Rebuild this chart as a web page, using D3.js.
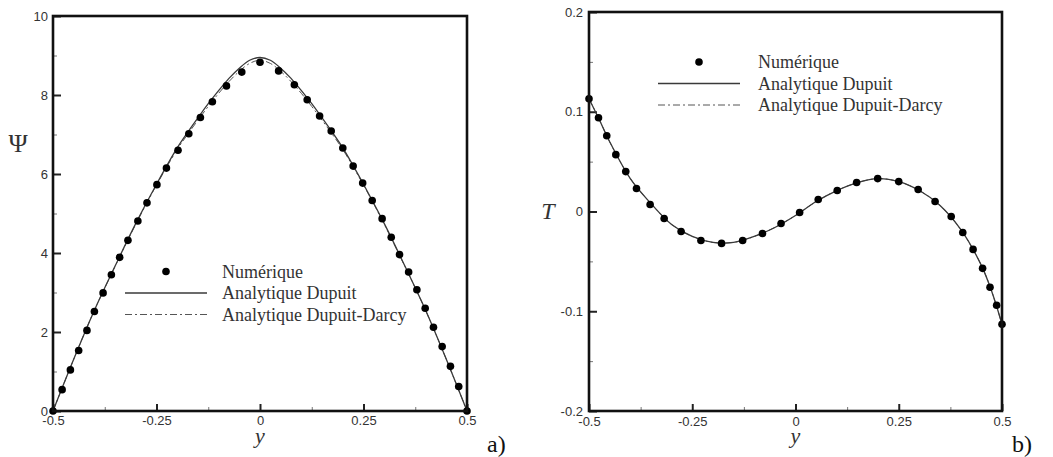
<!DOCTYPE html>
<html>
<head>
<meta charset="utf-8">
<script src="https://cdn.jsdelivr.net/npm/d3@7"></script>
<style>
  body { margin: 0; background: #fff; }
  svg { display: block; }
  .tick text { font-family: "Liberation Sans", Arial, sans-serif; font-size: 13px; fill: #333; }
  .leg { font-family: "Liberation Serif", "Times New Roman", serif; font-size: 18px; fill: #333; }
</style>
</head>
<body>
<svg id="chart" width="1053" height="457"></svg>
<script>
// ---------- données ----------

// a) fonction de courant Psi
let psiDotsY = [-0.5, -0.478, -0.458, -0.438, -0.418, -0.400, -0.379, -0.359, -0.339, -0.319, -0.295,
  -0.273, -0.249, -0.226, -0.198, -0.172, -0.144, -0.115, -0.081, -0.044, 0,
  0.045, 0.083, 0.114, 0.144, 0.172, 0.200, 0.225, 0.248, 0.271, 0.295,
  0.317, 0.337, 0.359, 0.379, 0.399, 0.419, 0.440, 0.460, 0.480, 0.5];
let psiDots = [0, 0.54, 1.04, 1.53, 2.04, 2.52, 2.99, 3.45, 3.89, 4.32, 4.81,
  5.27, 5.73, 6.15, 6.60, 7.02, 7.43, 7.83, 8.23, 8.58, 8.83,
  8.61, 8.26, 7.88, 7.47, 7.09, 6.66, 6.20, 5.77, 5.33, 4.87,
  4.40, 3.96, 3.52, 3.07, 2.60, 2.12, 1.63, 1.13, 0.62, 0];

let psiGrid = [-0.5, -0.45, -0.4, -0.35, -0.3, -0.25, -0.2, -0.175, -0.15, -0.125, -0.1, -0.075, -0.05, -0.025, 0,
  0.025, 0.05, 0.075, 0.1, 0.125, 0.15, 0.175, 0.2, 0.25, 0.3, 0.35, 0.4, 0.45, 0.5];
let psiDupuit = [0, 1.31, 2.55, 3.67, 4.75, 5.74, 6.66, 7.05, 7.42, 7.78, 8.11, 8.42, 8.68, 8.88, 8.95,
  8.88, 8.68, 8.42, 8.11, 7.78, 7.42, 7.05, 6.66, 5.74, 4.75, 3.67, 2.55, 1.31, 0];
let psiDarcy = [0, 1.31, 2.55, 3.66, 4.73, 5.72, 6.62, 7.00, 7.36, 7.71, 8.04, 8.34, 8.60, 8.80, 8.88,
  8.80, 8.60, 8.34, 8.04, 7.71, 7.36, 7.00, 6.62, 5.72, 4.73, 3.66, 2.55, 1.31, 0];

// b) température T
let tDotsY = [-0.5, -0.477, -0.457, -0.435, -0.411, -0.385, -0.352, -0.318, -0.277, -0.229, -0.179,
  -0.128, -0.080, -0.035, 0.010, 0.055, 0.101, 0.148, 0.199, 0.250, 0.297,
  0.338, 0.377, 0.405, 0.430, 0.453, 0.471, 0.487, 0.5];
let tDots = [0.113, 0.094, 0.076, 0.057, 0.040, 0.023, 0.007, -0.007, -0.020, -0.029, -0.032,
  -0.029, -0.022, -0.012, -0.001, 0.012, 0.021, 0.029, 0.033, 0.030, 0.022,
  0.010, -0.005, -0.021, -0.038, -0.057, -0.076, -0.094, -0.113];

let tGrid = [-0.5, -0.475, -0.45, -0.4, -0.35, -0.3, -0.25, -0.2, -0.15, -0.1, -0.05, 0,
  0.05, 0.1, 0.15, 0.2, 0.25, 0.3, 0.35, 0.4, 0.45, 0.475, 0.5];
let tDupuit = [0.113, 0.092, 0.070, 0.033, 0.008, -0.013, -0.025, -0.031, -0.031, -0.025, -0.016, -0.004,
  0.010, 0.021, 0.029, 0.033, 0.030, 0.021, 0.006, -0.018, -0.054, -0.080, -0.113];
let tDarcy = [0.113, 0.092, 0.070, 0.033, 0.008, -0.013, -0.025, -0.031, -0.031, -0.025, -0.016, -0.004,
  0.010, 0.021, 0.029, 0.033, 0.030, 0.021, 0.006, -0.018, -0.054, -0.080, -0.113];

// graduations
let xMajor = [-0.5, -0.25, 0, 0.25, 0.5];
let xMinor = [-0.375, -0.125, 0.125, 0.375];
let psiMajor = [0, 2, 4, 6, 8, 10];
let psiMinor = [1, 3, 5, 7, 9];
let tMajor = [-0.2, -0.1, 0, 0.1, 0.2];
let tMinor = [-0.15, -0.05, 0.05, 0.15];

let legendLabels = ["Numérique", "Analytique Dupuit", "Analytique Dupuit-Darcy"];

// ---------- dessin ----------
let svg = d3.select("#chart");
let fmt = d => String(d);

function drawPanel(p) {
  let x = d3.scaleLinear().domain([-0.5, 0.5]).range([p.left, p.right]);
  let y = d3.scaleLinear().domain(p.yDomain).range([p.bottom, p.top]);
  let g = svg.append("g");

  // graduations (vers l'intérieur)
  let gxMin = g.append("g").attr("transform", `translate(0,${p.bottom})`)
    .call(d3.axisBottom(x).tickValues(xMinor).tickSize(-4).tickFormat(""));
  let gxMaj = g.append("g").attr("transform", `translate(0,${p.bottom})`)
    .call(d3.axisBottom(x).tickValues(xMajor).tickSize(-7).tickPadding(p.xPad).tickFormat(fmt));
  let gyMin = g.append("g").attr("transform", `translate(${p.left},0)`)
    .call(d3.axisLeft(y).tickValues(p.yMinor).tickSize(-4).tickFormat(""));
  let gyMaj = g.append("g").attr("transform", `translate(${p.left},0)`)
    .call(d3.axisLeft(y).tickValues(p.yMajor).tickSize(-8).tickPadding(p.yPad).tickFormat(fmt));
  [gxMin, gxMaj, gyMin, gyMaj].forEach(a => a.select(".domain").remove());
  [gxMin, gyMin].forEach(a => a.selectAll(".tick line").attr("stroke", "#777").attr("stroke-width", 1));
  [gxMaj, gyMaj].forEach(a => a.selectAll(".tick line").attr("stroke", "#222").attr("stroke-width", 2));

  // courbes analytiques
  let lineD = d3.line().x((d, i) => x(p.grid[i])).y(d => y(d)).curve(d3.curveCatmullRom);
  g.append("path").attr("d", lineD(p.darcy))
    .attr("fill", "none").attr("stroke", "#555").attr("stroke-width", 1)
    .attr("stroke-dasharray", "7,3,2,3");
  g.append("path").attr("d", lineD(p.dupuit))
    .attr("fill", "none").attr("stroke", "#3a3a3a").attr("stroke-width", 1.3);

  // points numériques
  g.selectAll("circle.num").data(p.dots).join("circle")
    .attr("class", "num")
    .attr("cx", (d, i) => x(p.dotsY[i]))
    .attr("cy", d => y(d))
    .attr("r", 3.8)
    .attr("fill", "#000");

  // cadre
  g.append("rect")
    .attr("x", p.left).attr("y", p.top)
    .attr("width", p.right - p.left).attr("height", p.bottom - p.top)
    .attr("fill", "none").attr("stroke", "#111").attr("stroke-width", 2.6);

  // légende
  let lg = g.append("g");
  let lx0 = p.legX, lx1 = p.legX + 82;
  lg.append("circle").attr("cx", (lx0 + lx1) / 2).attr("cy", p.legY).attr("r", 3.8).attr("fill", "#000");
  lg.append("line").attr("x1", lx0).attr("x2", lx1).attr("y1", p.legY + 21.5).attr("y2", p.legY + 21.5)
    .attr("stroke", "#3a3a3a").attr("stroke-width", 1.3);
  lg.append("line").attr("x1", lx0).attr("x2", lx1).attr("y1", p.legY + 43).attr("y2", p.legY + 43)
    .attr("stroke", "#555").attr("stroke-width", 1).attr("stroke-dasharray", "7,3,2,3");
  legendLabels.forEach((t, i) => {
    lg.append("text").attr("class", "leg")
      .attr("x", p.legText).attr("y", p.legY + i * 21.5)
      .attr("dy", "0.35em").text(t);
  });

  // titres d'axes
  g.append("text")
    .attr("x", (p.left + p.right) / 2).attr("y", 443)
    .attr("text-anchor", "middle")
    .style("font-family", "'Liberation Serif', serif").style("font-style", "italic")
    .style("font-size", "22px").attr("fill", "#333")
    .text("y");
  g.append("text")
    .attr("x", p.yLabX).attr("y", p.yLabY).attr("dy", "0.35em")
    .attr("text-anchor", "middle")
    .style("font-family", "'Liberation Serif', serif").style("font-style", p.yLabItalic ? "italic" : "normal")
    .style("font-size", p.yLabSize).attr("fill", "#333")
    .text(p.yLab);
  g.append("text")
    .attr("x", p.tagX).attr("y", 452)
    .style("font-family", "'Liberation Serif', serif")
    .style("font-size", "24px").attr("fill", "#111")
    .text(p.tag);
}

drawPanel({
  left: 53, right: 467, top: 16, bottom: 411,
  yDomain: [0, 10], yMajor: psiMajor, yMinor: psiMinor, xPad: 5, yPad: 5,
  grid: psiGrid, dupuit: psiDupuit, darcy: psiDarcy, dotsY: psiDotsY, dots: psiDots,
  legX: 125, legY: 271.5, legText: 222,
  yLab: "Ψ", yLabX: 18, yLabY: 143, yLabItalic: false, yLabSize: "26px",
  tag: "a)", tagX: 487
});

drawPanel({
  left: 589, right: 1002, top: 12, bottom: 411,
  yDomain: [-0.2, 0.2], yMajor: tMajor, yMinor: tMinor, xPad: 6, yPad: 6,
  grid: tGrid, dupuit: tDupuit, darcy: tDarcy, dotsY: tDotsY, dots: tDots,
  legX: 658, legY: 62, legText: 758,
  yLab: "T", yLabX: 548, yLabY: 211, yLabItalic: true, yLabSize: "24px",
  tag: "b)", tagX: 1012
});
</script>
</body>
</html>
